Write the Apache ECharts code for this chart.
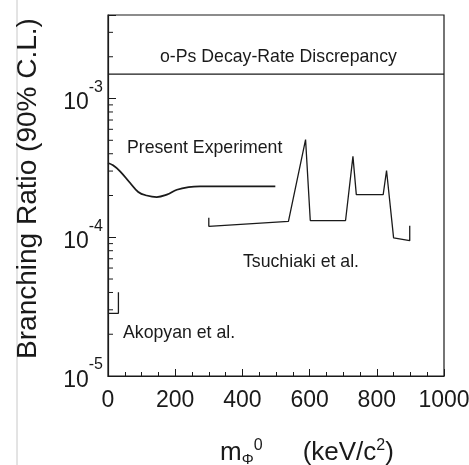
<!DOCTYPE html>
<html>
<head>
<meta charset="utf-8">
<script src="https://cdn.jsdelivr.net/npm/echarts@6/dist/echarts.min.js"></script>
<style>
  html, body { margin: 0; padding: 0; background: #fff; }
  #chart { width: 469px; height: 465px; }
</style>
</head>
<body>
<div id="chart"></div>
<script>
// present experiment (smooth limit curve)
var presentMass = [0, 15, 36, 66, 90, 115, 145, 175, 205, 240, 274, 350, 420, 498];
var presentBR = [3.43e-4, 3.3e-4, 2.99e-4, 2.46e-4, 2.12e-4, 2.0e-4, 1.95e-4, 2.03e-4, 2.2e-4, 2.3e-4, 2.33e-4, 2.33e-4, 2.33e-4, 2.33e-4];

// Tsuchiaki et al.
var tsuMass = [300, 300, 537, 588, 602, 707, 729, 739, 819, 829, 850, 898, 898];
var tsuBR = [1.38e-4, 1.2e-4, 1.30e-4, 5.06e-4, 1.32e-4, 1.32e-4, 3.83e-4, 2.03e-4, 2.03e-4, 3.03e-4, 9.9e-5, 9.45e-5, 1.21e-4];

// Akopyan et al.
var akoMass = [0, 31, 31];
var akoBR = [2.83e-5, 2.83e-5, 4.01e-5];

// o-Ps decay-rate discrepancy
var discMass = [0, 1000];
var discBR = [1.5e-3, 1.5e-3];

// log-axis minor ticks
var yMinorTicks = [2e-5, 3e-5, 4e-5, 5e-5, 6e-5, 7e-5, 8e-5, 9e-5,
                   2e-4, 3e-4, 4e-4, 5e-4, 6e-4, 7e-4, 8e-4, 9e-4,
                   2e-3, 3e-3];

function pairs(xs, ys) {
  return xs.map(function (x, i) { return [x, ys[i]]; });
}

var FONT = 'Liberation Sans';
var INK = '#1a1a1a';
var NOTE_FONT = '17.7px "Liberation Sans"';

var chart = echarts.init(document.getElementById('chart'));
chart.setOption({
  animation: false,
  textStyle: { fontFamily: FONT, color: INK },
  grid: {
    left: 108, right: 25, top: 15, bottom: 89,
    containLabel: false,
    outerBoundsMode: 'none',
    show: true, borderColor: INK, borderWidth: 1.2
  },
  xAxis: {
    type: 'value',
    min: 0, max: 1000, interval: 200,
    axisLine: { lineStyle: { color: INK, width: 1.2 } },
    axisTick: { inside: true, length: 7, lineStyle: { color: INK } },
    minorTick: { show: true, splitNumber: 4, length: 4, lineStyle: { color: INK } },
    splitLine: { show: false },
    axisLabel: {
      fontSize: 23, color: INK, margin: 13, fontFamily: FONT,
      formatter: function (v) { return String(v); }
    },
    name: '{m|m}{sub|Φ}{sup|0}{gap|}{m|(keV/c}{sup|2}{m|)}',
    nameLocation: 'middle',
    nameGap: 62,
    nameTextStyle: {
      padding: [0, 0, 0, 62],
      rich: {
        m: { fontSize: 26, fontFamily: FONT, color: INK },
        sub: { fontSize: 15, fontFamily: FONT, color: INK, padding: [14, 0, 0, 0] },
        sup: { fontSize: 16, fontFamily: FONT, color: INK, padding: [0, 0, 14, 0] },
        gap: { width: 40 }
      }
    }
  },
  yAxis: {
    type: 'log',
    logBase: 10,
    min: 1e-5, max: 4e-3,
    axisLine: { lineStyle: { color: INK, width: 1.2 } },
    axisTick: { inside: true, length: 8, lineStyle: { color: INK } },
    splitLine: { show: false },
    axisLabel: {
      margin: 5,
      formatter: function (v) {
        var e = Math.log10(v);
        if (Math.abs(e - Math.round(e)) > 1e-6) return '';
        return '{b|10}{s|' + Math.round(e) + '}';
      },
      rich: {
        b: { fontSize: 23, fontFamily: FONT, color: INK, verticalAlign: 'middle', padding: [9, 0, 0, 0] },
        s: { fontSize: 16, fontFamily: FONT, color: INK, verticalAlign: 'middle', padding: [0, 0, 22, 0] }
      }
    },
    name: 'Branching Ratio (90% C.L.)',
    nameLocation: 'middle',
    nameGap: 66,
    nameTextStyle: { fontSize: 28, fontFamily: FONT, color: INK, padding: [0, 0, 0, 14] }
  },
  graphic: [
    { type: 'line', shape: { x1: 17, y1: 0, x2: 17, y2: 465 }, style: { stroke: '#c8c8c8', lineWidth: 1 }, silent: true },
    { type: 'text', left: 160, top: 48, style: { text: 'o-Ps Decay-Rate Discrepancy', font: NOTE_FONT, fill: INK } },
    { type: 'text', left: 127, top: 139, style: { text: 'Present Experiment', font: NOTE_FONT, fill: INK } },
    { type: 'text', left: 243, top: 253, style: { text: 'Tsuchiaki et al.', font: NOTE_FONT, fill: INK } },
    { type: 'text', left: 123, top: 324, style: { text: 'Akopyan et al.', font: NOTE_FONT, fill: INK } }
  ],
  series: [
    {
      type: 'line', data: pairs(discMass, discBR), symbol: 'none',
      lineStyle: { color: INK, width: 1.2 }
    },
    {
      type: 'line', data: pairs(presentMass, presentBR), symbol: 'none', smooth: 0.4,
      lineStyle: { color: INK, width: 1.8 }
    },
    {
      type: 'line', data: pairs(tsuMass, tsuBR), symbol: 'none',
      lineStyle: { color: INK, width: 1.3 }
    },
    {
      type: 'line', data: pairs(akoMass, akoBR), symbol: 'none',
      lineStyle: { color: INK, width: 1.3 }
    },
    {
      // minor ticks of the log axis
      type: 'custom',
      data: yMinorTicks.map(function (v) { return [0, v]; }),
      clip: false,
      silent: true,
      renderItem: function (params, api) {
        var p = api.coord([0, api.value(1)]);
        return {
          type: 'line',
          shape: { x1: p[0], y1: p[1], x2: p[0] + 5, y2: p[1] },
          style: { stroke: INK, lineWidth: 1 }
        };
      }
    }
  ]
});
</script>
</body>
</html>
